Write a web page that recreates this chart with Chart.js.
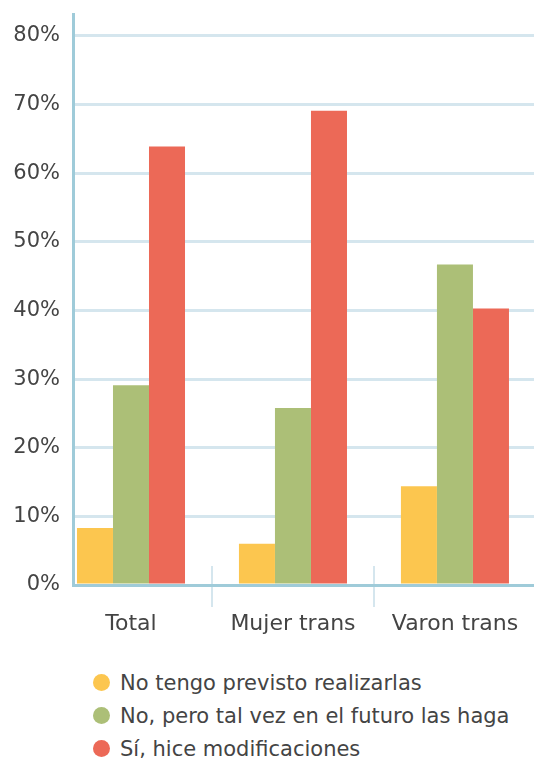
<!DOCTYPE html>
<html>
<head>
<meta charset="utf-8">
<script src="https://cdn.jsdelivr.net/npm/chart.js@4"></script>
<style>
  body { margin: 0; background: #fff; }
  #wrap { position: relative; width: 534px; height: 760px; font-family: "DejaVu Sans", sans-serif; }
  #chartBox { position: absolute; left: 0; top: 0; width: 534px; height: 650px; }
  #legend { position: absolute; left: 93px; top: 666px; color: #444; font-size: 21px; }
  .row { display: flex; align-items: center; height: 33px; }
  .dot { width: 17px; height: 17px; border-radius: 50%; margin-right: 10px; }
</style>
</head>
<body>
<div id="wrap">
  <div id="chartBox"><canvas id="grafico"></canvas></div>
  <div id="legend"></div>
</div>
<script>
// categorias y series
const categorias = ['Total', 'Mujer trans', 'Varon trans'];
const nombresSeries = ['No tengo previsto realizarlas', 'No, pero tal vez en el futuro las haga', 'Sí, hice modificaciones'];
const noPrevisto = [8.3, 6.0, 14.4];
const talVez = [29.1, 25.8, 46.7];
const siHice = [63.9, 69.1, 40.3];
const yTicks = [0, 10, 20, 30, 40, 50, 60, 70, 80];
const colores = ['#fcc64f', '#acbf77', '#ec6957'];

const valores = [noPrevisto, talVez, siHice];

// quitar el relleno automatico de las escalas
function sinRelleno(s) {
  s.paddingTop = 0;
  s.paddingBottom = 0;
  s.paddingLeft = 0;
  s.paddingRight = 0;
}

// separadores entre categorias (debajo del eje)
const separadores = {
  id: 'separadores',
  beforeDraw(chart) {
    const x = chart.scales.x;
    const area = chart.chartArea;
    const c = chart.ctx;
    c.save();
    c.strokeStyle = '#d5e6ee';
    c.lineWidth = 2;
    for (let i = 0; i < categorias.length - 1; i++) {
      const px = Math.round(x.getPixelForValue(i + 0.5));
      c.beginPath();
      c.moveTo(px, area.bottom - 19);
      c.lineTo(px, area.bottom + 22);
      c.stroke();
    }
    c.restore();
  }
};

const ctx = document.getElementById('grafico').getContext('2d');
const grafico = new Chart(ctx, {
  type: 'bar',
  data: {
    datasets: valores.map((serie, k) => ({
      label: nombresSeries[k],
      data: serie.map((v, i) => ({ x: i, y: v })),
      backgroundColor: colores[k],
      borderWidth: 0,
      categoryPercentage: 0.667,
      barPercentage: 1.0,
    })),
  },
  options: {
    responsive: true,
    maintainAspectRatio: false,
    animation: false,
    layout: { padding: { top: 14, right: 0, bottom: 0, left: 0 } },
    plugins: {
      legend: { display: false },
      tooltip: { enabled: false },
    },
    scales: {
      x: {
        type: 'linear',
        offset: false,
        min: -0.358,
        max: 2.488,
        afterBuildTicks: (s) => { s.ticks = categorias.map((_, i) => ({ value: i })); },
        afterFit: (s) => { s.height = 65; sinRelleno(s); },
        grid: { display: false, drawTicks: false },
        border: { display: true, color: '#9fcbd9', width: 3 },
        ticks: {
          autoSkip: false,
          maxRotation: 0,
          padding: 26,
          color: '#444',
          font: { family: 'DejaVu Sans', size: 22 },
          callback: (v) => categorias[v],
        },
      },
      y: {
        min: 0,
        max: 83.2,
        afterBuildTicks: (s) => { s.ticks = yTicks.map(v => ({ value: v })); },
        afterFit: (s) => { s.width = 73; sinRelleno(s); },
        grid: { color: '#d5e6ee', lineWidth: 3, drawTicks: false },
        border: { display: true, color: '#9fcbd9', width: 3 },
        ticks: {
          padding: 13,
          color: '#444',
          font: { family: 'DejaVu Sans', size: 21 },
          callback: (v) => v + '%',
        },
      },
    },
  },
  plugins: [separadores],
});

// leyenda
const leyenda = document.getElementById('legend');
nombresSeries.forEach((n, k) => {
  const row = document.createElement('div');
  row.className = 'row';
  const dot = document.createElement('span');
  dot.className = 'dot';
  dot.style.background = colores[k];
  const txt = document.createElement('span');
  txt.textContent = n;
  row.appendChild(dot);
  row.appendChild(txt);
  leyenda.appendChild(row);
});
</script>
</body>
</html>
